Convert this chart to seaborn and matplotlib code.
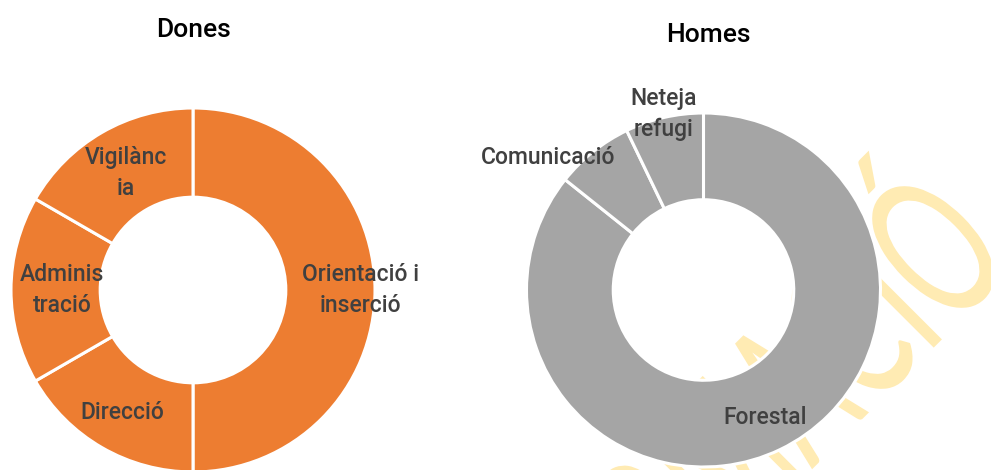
import numpy as np
import matplotlib
matplotlib.use("Agg")
import matplotlib.pyplot as plt
import matplotlib.transforms as mtransforms
from matplotlib.textpath import TextPath
from matplotlib.patches import PathPatch
from matplotlib.font_manager import FontProperties
import seaborn as sns

# ---------------------------------------------------------------------------
# Dades
# ---------------------------------------------------------------------------
dones_labels = ["Orientació i\ninserció", "Direcció", "Adminis\ntració", "Vigilànc\nia"]
dones_values = [3, 1, 1, 1]

homes_labels = ["Forestal", "Comunicació", "Neteja\nrefugi"]
homes_values = [12, 1, 1]

# posició de les etiquetes (distància radial, desplaçament angular)
dones_lab_pos = [(0.92, 0), (0.775, 0), (0.72, 0), (0.74, 0)]
homes_lab_pos = [(0.80, 0), (1.15, 11), (1.02, 0)]

WATERMARK = "FORMACIÓ"

ORANGE = "#ED7D31"
GREY = "#A5A5A5"
TXT = "#404040"
FONT = ["Roboto", "DejaVu Sans"]

sns.set_style("white")

W, H = 991, 470
fig = plt.figure(figsize=(W / 100, H / 100), dpi=100)


def donut(rect, cx, cy, r, values, labels, lab_pos, color):
    # rect en fracció de figura; cx, cy, r en píxels (y des de dalt)
    ax = fig.add_axes(rect)
    x0 = rect[0] * W
    x1 = (rect[0] + rect[2]) * W
    wedges, _ = ax.pie(values, colors=[color] * len(values), startangle=90,
                       counterclock=False,
                       wedgeprops=dict(width=0.49, edgecolor="white", linewidth=2.2))
    for w, lab, (d, da) in zip(wedges, labels, lab_pos):
        ang = np.deg2rad((w.theta1 + w.theta2) / 2 + da)
        ax.text(d * np.cos(ang), d * np.sin(ang), lab, ha="center", va="center",
                fontsize=16.5, color=TXT, family=FONT, fontweight="medium",
                linespacing=1.45)
    ax.set_aspect("auto")
    ax.set_xlim((x0 - cx) / r, (x1 - cx) / r)
    ax.set_ylim(-(H - cy) / r, cy / r)
    ax.patch.set_alpha(0)
    ax.axis("off")
    return ax


ax1 = donut([0, 0, 0.5, 1], 193, 290, 182, dones_values, dones_labels,
            dones_lab_pos, ORANGE)
ax2 = donut([0.5, 0, 0.5, 1], 703.5, 290, 177, homes_values, homes_labels,
            homes_lab_pos, GREY)

fig.text(193 / W, 1 - 30 / H, "Dones", ha="center", va="center",
         fontsize=19, color="black", family=FONT, fontweight="medium")
fig.text(708 / W, 1 - 35 / H, "Homes", ha="center", va="center",
         fontsize=19, color="black", family=FONT, fontweight="medium")

# marca d'aigua al fons (text estret i girat 45°)
fp = FontProperties(family=["Lato", "DejaVu Sans"])
size = 200
tp = TextPath((0, 0), WATERMARK, size=size, prop=fp)
ext = tp.get_extents()
o_ext = TextPath((0, 0), WATERMARK[-1], size=size, prop=fp).get_extents()
cap = TextPath((0, 0), "I", size=size, prop=fp).get_extents().y1
ocx = ext.x1 - (o_ext.x1 - o_ext.x0) / 2
trans = (mtransforms.Affine2D().translate(-ocx, -cap / 2).scale(0.6, 1)
         .rotate_deg(45).translate(933, H - 247))
fig.add_artist(PathPatch(tp, transform=trans, facecolor="#FFEBB3",
                         edgecolor="none", zorder=-5))

plt.savefig("out.png", dpi=100, facecolor="white")
plt.close()
